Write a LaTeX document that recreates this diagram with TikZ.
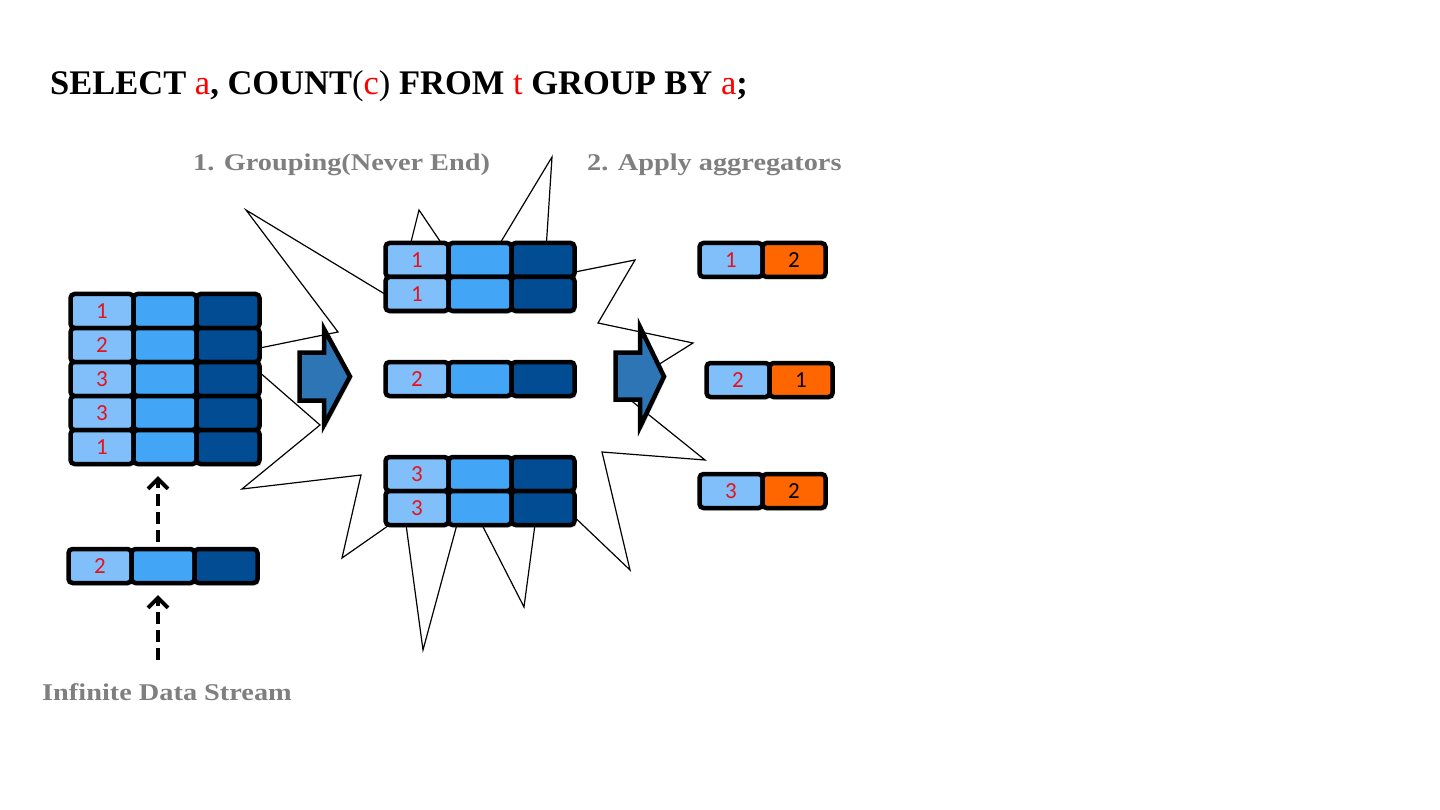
\documentclass[tikz,border=0pt]{standalone}
\usepackage{fontspec}
\setmainfont{Liberation Serif}
\newfontfamily\headfont[FakeStretch=1.18]{Liberation Serif}
\newfontfamily\cellfont{Carlito}
\usetikzlibrary{arrows.meta,positioning,shadows}
\definecolor{cellpale}{HTML}{80BFFA}
\definecolor{cellmid}{HTML}{42A5F5}
\definecolor{celldeep}{HTML}{024C93}
\definecolor{aggorange}{HTML}{FF6600}
\definecolor{arrowblue}{HTML}{2E75B6}
\definecolor{keyred}{HTML}{E3141E}
\definecolor{labelgray}{HTML}{7F7F7F}

\begin{document}
\begin{tikzpicture}[x=1pt,y=-1pt,
 node distance=0pt,
 cell/.style={draw=black,line width=4.5pt,rounded corners=4pt,minimum width=63pt,minimum height=34pt,inner sep=0pt,outer sep=0pt,
   font=\cellfont\fontsize{23}{23}\selectfont,text=keyred,drop shadow={shadow xshift=2pt,shadow yshift=-2.5pt,opacity=.3}},
 pale/.style={cell,fill=cellpale},
 mid/.style={cell,fill=cellmid},
 deep/.style={cell,fill=celldeep},
 agg/.style={cell,fill=aggorange,text=black},
 caption/.style={anchor=base west,inner sep=0pt,text=labelgray,font=\headfont\bfseries\fontsize{24}{24}\selectfont},
 bigarrow/.style={draw=black,fill=arrowblue,line width=4.5pt,drop shadow={shadow xshift=2pt,shadow yshift=-2.5pt,opacity=.3}},
 flow/.style={-{Straight Barb[length=10pt,width=20pt]},line width=4pt,dash pattern=on 12pt off 6pt}
]
\useasboundingbox (0,0) rectangle (1440,810);
\node[anchor=base west,inner sep=0pt,font=\bfseries\fontsize{34.5}{35}\selectfont] (query) at (50,95)
 {SELECT \textcolor{red}{\mdseries a}, COUNT{\mdseries(\textcolor{red}{c})} FROM \textcolor{red}{\mdseries t} GROUP BY \textcolor{red}{\mdseries a};};
\node[caption] (grouplbl) at (193,171) {1. Grouping(Never End)};
\node[caption] (applylbl) at (587,171) {2. Apply aggregators};
\node[caption] (streamlbl) at (42,700) {Infinite Data Stream};
% explosion behind the groups
\draw[line width=1.2pt,fill=white,line join=miter] (246,210) -- (338,332) -- (250,350) -- (250,364) -- (320,425) -- (242,489) -- (361,475)
 -- (342,558) -- (395,521) -- (405,517) -- (423,650) -- (459,517) -- (478,517) -- (524,607) -- (536,517) -- (565,508)
 -- (630,570) -- (602,452) -- (705,460) -- (618,390) -- (693,343) -- (598,323) -- (635,260) -- (565,274) -- (546,250)
 -- (552,157) -- (496,250) -- (446,250) -- (419,210) -- (409,250) -- (393,299) -- cycle;
\draw[bigarrow] (299.5,352.5) -- (324,352.5) -- (324,329) -- (350,376.5) -- (324,425) -- (324,400.5) -- (299.5,400.5) -- cycle;
\draw[bigarrow] (615.5,352.5) -- (640,352.5) -- (640,327) -- (664,376.5) -- (640,427) -- (640,399.5) -- (615.5,399.5) -- cycle;
% input table
\node[pale] (src1a) at (102,311) {1}; \node[mid,right=of src1a] (src1b) {}; \node[deep,right=of src1b] (src1c) {};
\node[pale,below=of src1a] (src2a) {2}; \node[mid,right=of src2a] (src2b) {}; \node[deep,right=of src2b] (src2c) {};
\node[pale,below=of src2a] (src3a) {3}; \node[mid,right=of src3a] (src3b) {}; \node[deep,right=of src3b] (src3c) {};
\node[pale,below=of src3a] (src4a) {3}; \node[mid,right=of src4a] (src4b) {}; \node[deep,right=of src4b] (src4c) {};
\node[pale,below=of src4a] (src5a) {1}; \node[mid,right=of src5a] (src5b) {}; \node[deep,right=of src5b] (src5c) {};
% incoming row
\node[pale] (newa) at (100,566) {2}; \node[mid,right=of newa] (newb) {}; \node[deep,right=of newb] (newc) {};
% groups
\node[pale] (g1a) at (417,260) {1}; \node[mid,right=of g1a] (g1b) {}; \node[deep,right=of g1b] (g1c) {};
\node[pale,below=of g1a] (g1d) {1}; \node[mid,right=of g1d] (g1e) {}; \node[deep,right=of g1e] (g1f) {};
\node[pale] (g2a) at (417,379) {2}; \node[mid,right=of g2a] (g2b) {}; \node[deep,right=of g2b] (g2c) {};
\node[pale] (g3a) at (417,474) {3}; \node[mid,right=of g3a] (g3b) {}; \node[deep,right=of g3b] (g3c) {};
\node[pale,below=of g3a] (g3d) {3}; \node[mid,right=of g3d] (g3e) {}; \node[deep,right=of g3e] (g3f) {};
% results
\node[pale] (r1a) at (731,260) {1}; \node[agg,right=of r1a] (r1b) {2};
\node[pale] (r2a) at (738,380) {2}; \node[agg,right=of r2a] (r2b) {1};
\node[pale] (r3a) at (731,491) {3}; \node[agg,right=of r3a] (r3b) {2};
% stream arrows
\coordinate (feed) at (158,660);
\draw[flow,shorten >=12pt] (feed) -- (feed |- newb.south);
\draw[flow,shorten <=7pt,shorten >=12pt] (feed |- newb.north) -- (feed |- src5b.south);
\end{tikzpicture}
\end{document}
